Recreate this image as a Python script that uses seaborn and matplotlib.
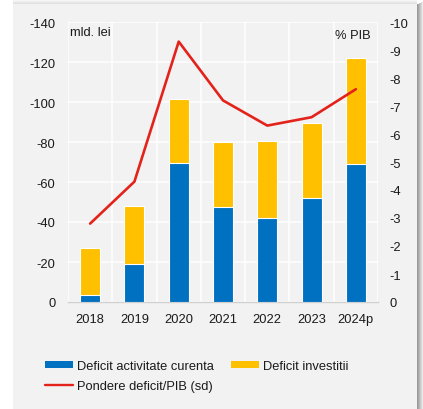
import numpy as np
import pandas as pd
import matplotlib
matplotlib.use("Agg")
import matplotlib.pyplot as plt
from matplotlib.patches import Rectangle, Patch
from matplotlib.lines import Line2D
import seaborn as sns

# Budget deficit components (bn lei) and deficit share of GDP (%)
years = ["2018", "2019", "2020", "2021", "2022", "2023", "2024p"]
deficit_curent = [-3.5, -19, -69.5, -47.5, -42, -52, -69]
deficit_investitii = [-23.5, -29, -32, -32.5, -38.5, -37.5, -53]
pondere_pib = [-2.8, -4.3, -9.3, -7.2, -6.3, -6.6, -7.6]

left_ticks = [0, -20, -40, -60, -80, -100, -120, -140]
right_ticks = [0, -1, -2, -3, -4, -5, -6, -7, -8, -9, -10]

BLUE = "#0070c0"
YELLOW = "#ffc000"
RED = "#e3231b"
BG = "#f2f2f2"
TEXT = "#1a1a1a"

df = pd.DataFrame({
    "an": years,
    "curent": deficit_curent,
    "investitii": deficit_investitii,
})
df["total"] = df["curent"] + df["investitii"]
df["pondere"] = pondere_pib
df["pos"] = np.arange(len(years))

sns.set_style("white")
plt.rcParams["font.family"] = ["Liberation Sans", "DejaVu Sans"]
plt.rcParams["font.size"] = 9

fig = plt.figure(figsize=(4.23, 4.10), dpi=100)
fig.patch.set_facecolor("white")

# panel background with a soft shadow on the right and top
fig.patches.append(Rectangle((13 / 423, 0), 404 / 423, 1 - 5 / 410,
                             transform=fig.transFigure, facecolor=BG,
                             edgecolor="none", zorder=-10))
shadow_cols = ["#9a9a9a", "#a8a8a8", "#b8b8b8", "#c8c8c8", "#d8d8d8", "#e8e8e8"]
for i, c in enumerate(shadow_cols):
    fig.patches.append(Rectangle(((417 + i) / 423, 0), 1 / 423, 1 - (5 - i * 0.5) / 410,
                                 transform=fig.transFigure, facecolor=c,
                                 edgecolor="none", zorder=-11))
for i, c in enumerate(["#e0e0e0", "#e8e8e8", "#efefef", "#f6f6f6"]):
    fig.patches.append(Rectangle((13 / 423, 1 - (5 - i) / 410), 404 / 423, 1 / 410,
                                 transform=fig.transFigure, facecolor=c,
                                 edgecolor="none", zorder=-11))

ax = fig.add_axes([68 / 423, 1 - 303 / 410, 310 / 423, 280 / 410])
ax.set_facecolor(BG)
ax.patch.set_alpha(0)

sns.barplot(data=df, x="an", y="total", color=YELLOW, saturation=1,
            width=0.45, edgecolor="white", linewidth=0.8, ax=ax, zorder=3)
sns.barplot(data=df, x="an", y="curent", color=BLUE, saturation=1,
            width=0.45, edgecolor="white", linewidth=0.8, ax=ax, zorder=4)

ax.set_xlim(-0.5, len(years) - 0.5)
ax.set_ylim(0, -140)
ax.set_yticks(left_ticks)
ax.set_yticklabels([str(t) for t in left_ticks])
ax.set_xticks(df["pos"])
ax.set_xticklabels(years)
ax.set_xticks(np.arange(len(years) + 1) - 0.5, minor=True)
ax.set_xlabel("")
ax.set_ylabel("")

ax.grid(True, axis="y", which="major", color="white", linewidth=1.1, zorder=0)
ax.grid(True, axis="x", which="minor", color="white", linewidth=1.1, zorder=0)
ax.grid(False, axis="x", which="major")
ax.set_axisbelow(True)
for s in ["top", "left", "right"]:
    ax.spines[s].set_visible(False)
ax.spines["bottom"].set_color("#d0d0d0")
ax.spines["bottom"].set_linewidth(1.0)
ax.tick_params(axis="both", which="both", length=0, colors=TEXT, labelsize=9.3)
ax.tick_params(axis="y", pad=9)
ax.tick_params(axis="x", pad=8)

ax2 = ax.twinx()
sns.lineplot(data=df, x="pos", y="pondere", color=RED, linewidth=1.9,
             ax=ax2, zorder=5)
ax2.set_ylim(0, -10)
ax2.set_yticks(right_ticks)
ax2.set_yticklabels([str(t) for t in right_ticks])
ax2.set_xlim(-0.5, len(years) - 0.5)
ax2.set_ylabel("")
ax2.set_xlabel("")
ax2.grid(False)
for s in ax2.spines.values():
    s.set_visible(False)
ax2.tick_params(axis="y", length=0, pad=8, colors=TEXT, labelsize=9.3)

ax.text(0.008, 0.985, "mld. lei", transform=ax.transAxes, ha="left", va="top",
        fontsize=9.3, color=TEXT)
ax.text(0.975, 0.975, "% PIB", transform=ax.transAxes, ha="right", va="top",
        fontsize=9.3, color=TEXT)

# column-major legend order: blue, red in the first column, yellow in the second
handles = [
    Patch(facecolor=BLUE, edgecolor="none", label="Deficit activitate curenta"),
    Line2D([0], [0], color=RED, linewidth=1.7, label="Pondere deficit/PIB (sd)"),
    Patch(facecolor=YELLOW, edgecolor="none", label="Deficit investitii"),
]
fig.legend(handles=handles, loc="upper left", bbox_to_anchor=(45 / 423, 1 - 361 / 410),
           ncol=2, frameon=False, fontsize=9.3, handlelength=2.2, handleheight=0.55,
           handletextpad=0.3, columnspacing=1.3, labelspacing=0.65,
           borderpad=0, borderaxespad=0, labelcolor=TEXT)

fig.savefig("out.png", dpi=100, facecolor=fig.get_facecolor())
